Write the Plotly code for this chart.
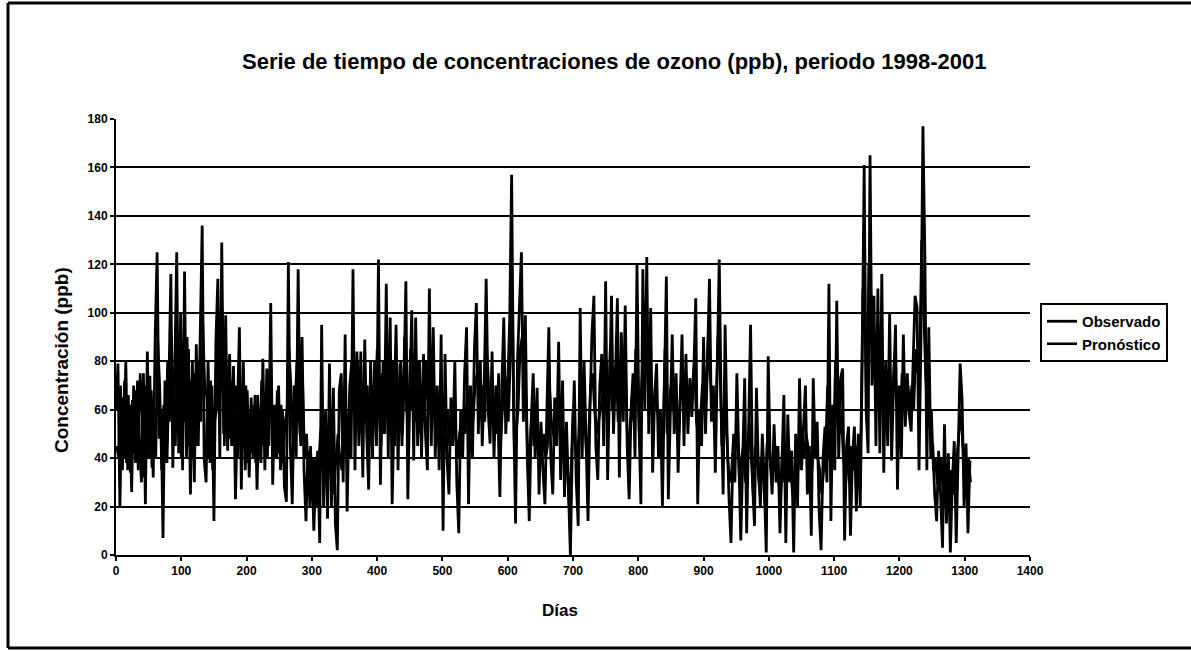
import plotly.graph_objects as go

# ---------------- data ----------------
# Observado: one value every 3 days, starting on day 0
obs = [
    60, 79, 20, 65, 40, 80, 35, 62, 26, 70,
    38, 72, 45, 30, 75, 21, 84, 40, 68, 32,
    90, 125, 48, 60, 7, 72, 38, 70, 116, 36,
    75, 125, 42, 100, 35, 117, 40, 85, 25, 80,
    30, 87, 45, 92, 136, 40, 30, 80, 38, 70,
    14, 88, 114, 40, 129, 50, 99, 43, 83, 45,
    78, 23, 60, 94, 27, 80, 35, 68, 32, 65,
    40, 66, 27, 60, 38, 81, 35, 77, 45, 104,
    29, 62, 40, 70, 35, 60, 28, 22, 121, 45,
    21, 70, 40, 118, 50, 90, 35, 14, 43, 20,
    40, 10, 35, 43, 5, 95, 20, 60, 15, 79,
    20, 69, 13, 2, 68, 75, 30, 91, 18, 60,
    40, 118, 35, 84, 45, 84, 32, 89, 50, 27,
    80, 40, 80, 45, 122, 29, 75, 50, 112, 40,
    98, 21, 60, 95, 35, 79, 45, 70, 113, 23,
    65, 101, 39, 98, 45, 80, 40, 83, 50, 35,
    110, 45, 94, 40, 70, 35, 91, 10, 83, 40,
    25, 65, 45, 80, 30, 9, 60, 40, 75, 94,
    21, 70, 40, 85, 104, 50, 80, 45, 70, 114,
    60, 46, 84, 40, 70, 58, 24, 70, 98, 50,
    70, 97, 157, 60, 13, 80, 103, 125, 55, 99,
    40, 14, 55, 75, 40, 69, 25, 55, 35, 21,
    60, 94, 40, 25, 65, 45, 88, 31, 72, 24,
    55, 30, 0, 45, 72, 30, 12, 102, 40, 80,
    50, 14, 60, 91, 107, 45, 31, 70, 83, 45,
    113, 31, 70, 107, 50, 73, 106, 32, 92, 55,
    103, 45, 23, 60, 75, 40, 120, 55, 21, 118,
    60, 123, 50, 102, 34, 65, 79, 40, 60, 20,
    70, 115, 23, 60, 91, 50, 75, 34, 60, 91,
    45, 83, 50, 73, 57, 75, 106, 21, 60, 45,
    90, 50, 80, 114, 55, 70, 34, 80, 122, 60,
    25, 95, 50, 23, 5, 42, 30, 75, 35, 6,
    40, 73, 9, 50, 95, 30, 12, 69, 35, 20,
    50, 30, 1, 82, 40, 25, 54, 30, 45, 9,
    35, 66, 5, 58, 30, 43, 1, 50, 20, 73,
    35, 55, 70, 25, 45, 8, 73, 40, 55, 18,
    2, 40, 53, 30, 112, 14, 62, 35, 105, 40,
    73, 77, 6, 45, 53, 8, 40, 53, 18, 50,
    20, 80, 161, 60, 42, 165, 70, 107, 45, 110,
    42, 116, 34, 80, 45, 100, 39, 70, 95, 27,
    70, 40, 91, 53, 75, 58, 51, 80, 107, 102,
    35, 90, 177, 123, 35, 94, 40, 46, 25, 14,
    43, 25, 3, 54, 13, 42, 1, 30, 47, 5,
    40, 79, 64, 20, 46, 9, 39,
]
dias_obs = [3 * i for i in range(len(obs))]

# Pronostico: one value every 3 days, starting on day 1
pron = [
    45, 40, 70, 35, 72, 38, 66, 34, 64, 42,
    68, 35, 75, 60, 32, 70, 40, 74, 36, 60,
    40, 88, 70, 35, 62, 40, 80, 55, 90, 60,
    45, 85, 60, 40, 85, 55, 90, 45, 72, 40,
    75, 45, 80, 55, 95, 70, 65, 40, 72, 35,
    55, 60, 85, 70, 90, 45, 75, 60, 48, 72,
    45, 70, 40, 62, 55, 45, 70, 38, 60, 42,
    62, 38, 66, 40, 72, 45, 58, 40, 75, 60,
    55, 40, 68, 42, 62, 38, 55, 60, 85, 70,
    48, 60, 80, 60, 45, 70, 40, 50, 30, 45,
    25, 40, 20, 35, 50, 55, 40, 30, 50, 35,
    45, 25, 40, 50, 40, 35, 60, 50, 40, 70,
    80, 60, 55, 80, 50, 70, 60, 55, 70, 45,
    60, 70, 55, 85, 60, 45, 80, 50, 75, 70,
    50, 80, 45, 70, 55, 80, 50, 90, 60, 55,
    85, 60, 75, 55, 80, 50, 65, 55, 80, 60,
    80, 55, 70, 50, 62, 55, 60, 45, 55, 60,
    45, 55, 60, 50, 40, 50, 55, 60, 50, 70,
    50, 60, 55, 70, 75, 65, 60, 70, 55, 85,
    70, 60, 65, 55, 50, 75, 45, 60, 75, 70,
    55, 80, 110, 45, 50, 60, 85, 90, 70, 65,
    35, 45, 60, 45, 60, 50, 45, 40, 50, 40,
    45, 70, 55, 50, 45, 60, 60, 55, 50, 45,
    40, 20, 35, 60, 45, 35, 50, 70, 60, 55,
    40, 50, 70, 75, 60, 50, 55, 60, 65, 70,
    80, 55, 85, 60, 70, 80, 55, 70, 60, 75,
    70, 40, 50, 65, 55, 85, 75, 45, 70, 85,
    90, 75, 80, 60, 55, 70, 60, 55, 45, 50,
    85, 50, 60, 70, 65, 55, 60, 50, 70, 65,
    60, 65, 60, 65, 70, 80, 55, 50, 55, 70,
    70, 65, 90, 75, 60, 55, 60, 90, 80, 45,
    55, 60, 40, 30, 35, 50, 45, 50, 30, 40,
    45, 30, 40, 55, 40, 25, 45, 40, 30, 40,
    35, 20, 45, 50, 35, 40, 35, 45, 30, 25,
    45, 30, 35, 45, 40, 25, 30, 40, 35, 50,
    45, 40, 50, 45, 30, 35, 50, 45, 40, 35,
    25, 35, 45, 70, 40, 35, 45, 80, 60, 50,
    60, 40, 35, 40, 30, 45, 35, 40, 45, 35,
    50, 110, 100, 55, 120, 110, 80, 75, 80, 75,
    70, 80, 60, 55, 70, 65, 60, 80, 70, 60,
    55, 75, 60, 65, 70, 60, 70, 60, 85, 75,
    80, 130, 100, 75, 60, 55, 60, 35, 40, 30,
    30, 40, 25, 30, 35, 20, 35, 25, 30, 40,
    50, 60, 45, 35, 30, 40, 30,
]
dias_pron = [1 + 3 * i for i in range(len(pron))]

x_ticks = list(range(0, 1401, 100))
y_ticks = list(range(0, 181, 20))

titulo = "Serie de tiempo de concentraciones de ozono (ppb), periodo 1998-2001"
titulo_x = "Días"
titulo_y = "Concentración (ppb)"

# ---------------- layout geometry (pixels) ----------------
W, H = 1191, 651
L, R, T, B = 116, 1030, 119, 555
PW, PH = R - L, B - T


def px(x):
    return (x - L) / PW


def py(y):
    return (B - y) / PH


FONT = "Liberation Sans, Arial, sans-serif"

fig = go.Figure()
fig.add_trace(go.Scatter(x=dias_obs, y=obs, mode="lines", name="Observado",
                         line=dict(color="black", width=2.8)))
fig.add_trace(go.Scatter(x=dias_pron, y=pron, mode="lines", name="Pronóstico",
                         line=dict(color="black", width=2.6)))

fig.update_layout(
    width=W, height=H,
    margin=dict(l=L, r=W - R, t=T, b=H - B),
    paper_bgcolor="white", plot_bgcolor="white",
    font=dict(family=FONT, color="black", size=12, weight="bold"),
    showlegend=True,
    legend=dict(x=px(1040), y=py(303), xanchor="left", yanchor="top",
                bordercolor="black", borderwidth=2, bgcolor="white",
                font=dict(family=FONT, size=15, color="black", weight="bold"),
                itemwidth=30, tracegroupgap=4),
    xaxis=dict(range=[0, 1400], tickvals=x_ticks, ticktext=[str(v) for v in x_ticks],
               showgrid=False, zeroline=False, showline=True, linecolor="black", linewidth=2,
               ticks="outside", ticklen=4, tickcolor="black", tickwidth=2,
               tickfont=dict(family=FONT, size=12, color="black", weight="bold")),
    yaxis=dict(range=[0, 180], tickvals=y_ticks, ticktext=[str(v) for v in y_ticks],
               showgrid=True, gridcolor="black", gridwidth=2, zeroline=False,
               showline=True, linecolor="black", linewidth=2,
               ticks="outside", ticklen=4, tickcolor="black", tickwidth=2,
               tickfont=dict(family=FONT, size=12, color="black", weight="bold")),
)

fig.add_annotation(text=titulo, xref="paper", yref="paper", x=px(614), y=py(61),
                   showarrow=False, xanchor="center", yanchor="middle",
                   font=dict(family=FONT, size=22, color="black", weight="bold"))
fig.add_annotation(text=titulo_x, xref="paper", yref="paper", x=px(560), y=py(610),
                   showarrow=False, xanchor="center", yanchor="middle",
                   font=dict(family=FONT, size=17, color="black", weight="bold"))
fig.add_annotation(text=titulo_y, xref="paper", yref="paper", x=px(61), y=py(360),
                   showarrow=False, xanchor="center", yanchor="middle", textangle=-90,
                   font=dict(family=FONT, size=19, color="black", weight="bold"))

# outer chart frame (scanned border)
frame = [
    (8, 3, 1191, 3),
    (8, 3, 8, 648),
    (8, 648, 1191, 648),
]
for x0, y0, x1, y1 in frame:
    fig.add_shape(type="line", xref="paper", yref="paper",
                  x0=px(x0), y0=py(y0), x1=px(x1), y1=py(y1),
                  line=dict(color="black", width=3))

fig.write_html("out.html")
